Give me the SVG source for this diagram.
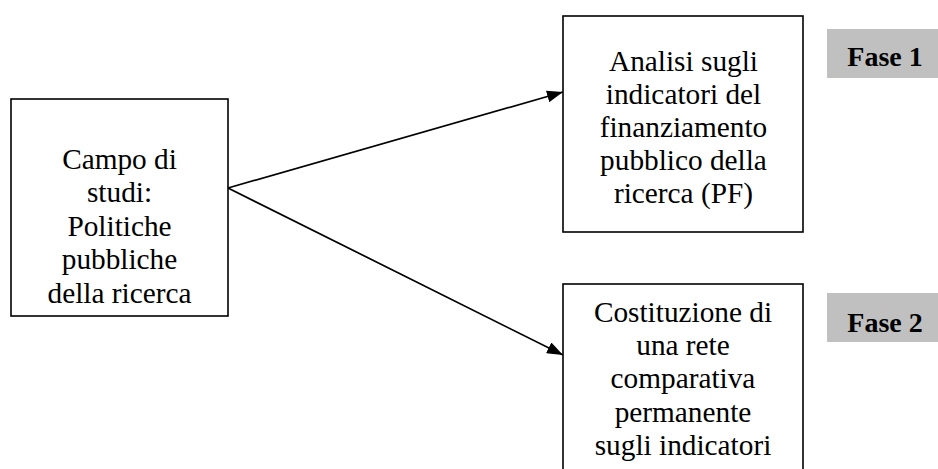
<svg xmlns="http://www.w3.org/2000/svg" width="938" height="469" viewBox="0 0 938 469">
<style>
.box{fill:#fff;stroke:#000;stroke-width:1.6}
.t{font-family:"Liberation Serif","Times New Roman",serif;font-size:29.3px;fill:#000;text-anchor:middle}
.fb{fill:#c0c0c0}
.ft{font-family:"Liberation Serif","Times New Roman",serif;font-size:28px;font-weight:bold;fill:#000;text-anchor:middle}
.c{stroke:#000;stroke-width:1.7;fill:none;marker-end:url(#ah)}
</style>
<defs>
<marker id="ah" markerWidth="16" markerHeight="12" refX="16" refY="6" orient="auto" markerUnits="userSpaceOnUse">
<path d="M0,0 L16,6 L0,12 Z" fill="#000"/>
</marker>
</defs>
<rect width="938" height="469" fill="#fff"/>
<g id="connectors">
<line class="c" x1="228" y1="188" x2="563" y2="92"/>
<line class="c" x1="228" y1="188" x2="563" y2="355"/>
</g>
<g id="campo">
<rect class="box" x="11" y="99" width="217" height="217"/>
<text class="t" x="119.5" y="169">Campo di</text>
<text class="t" x="119.5" y="202">studi:</text>
<text class="t" x="119.5" y="236">Politiche</text>
<text class="t" x="119.5" y="269">pubbliche</text>
<text class="t" x="119.5" y="303">della ricerca</text>
</g>
<g id="analisi">
<rect class="box" x="563" y="16" width="240" height="216"/>
<text class="t" x="683.5" y="71">Analisi sugli</text>
<text class="t" x="683.5" y="104">indicatori del</text>
<text class="t" x="683.5" y="137">finanziamento</text>
<text class="t" x="683.5" y="170">pubblico della</text>
<text class="t" x="683.5" y="203">ricerca (PF)</text>
</g>
<g id="costituzione">
<rect class="box" x="563" y="284" width="240" height="200"/>
<text class="t" x="683" y="322">Costituzione di</text>
<text class="t" x="683" y="355">una rete</text>
<text class="t" x="683" y="388">comparativa</text>
<text class="t" x="683" y="422">permanente</text>
<text class="t" x="683" y="455">sugli indicatori</text>
</g>
<g id="fase1">
<rect class="fb" x="827" y="29" width="111" height="49"/>
<text class="ft" x="885" y="66">Fase 1</text>
</g>
<g id="fase2">
<rect class="fb" x="827" y="293" width="111" height="49"/>
<text class="ft" x="885" y="332">Fase 2</text>
</g>
</svg>
